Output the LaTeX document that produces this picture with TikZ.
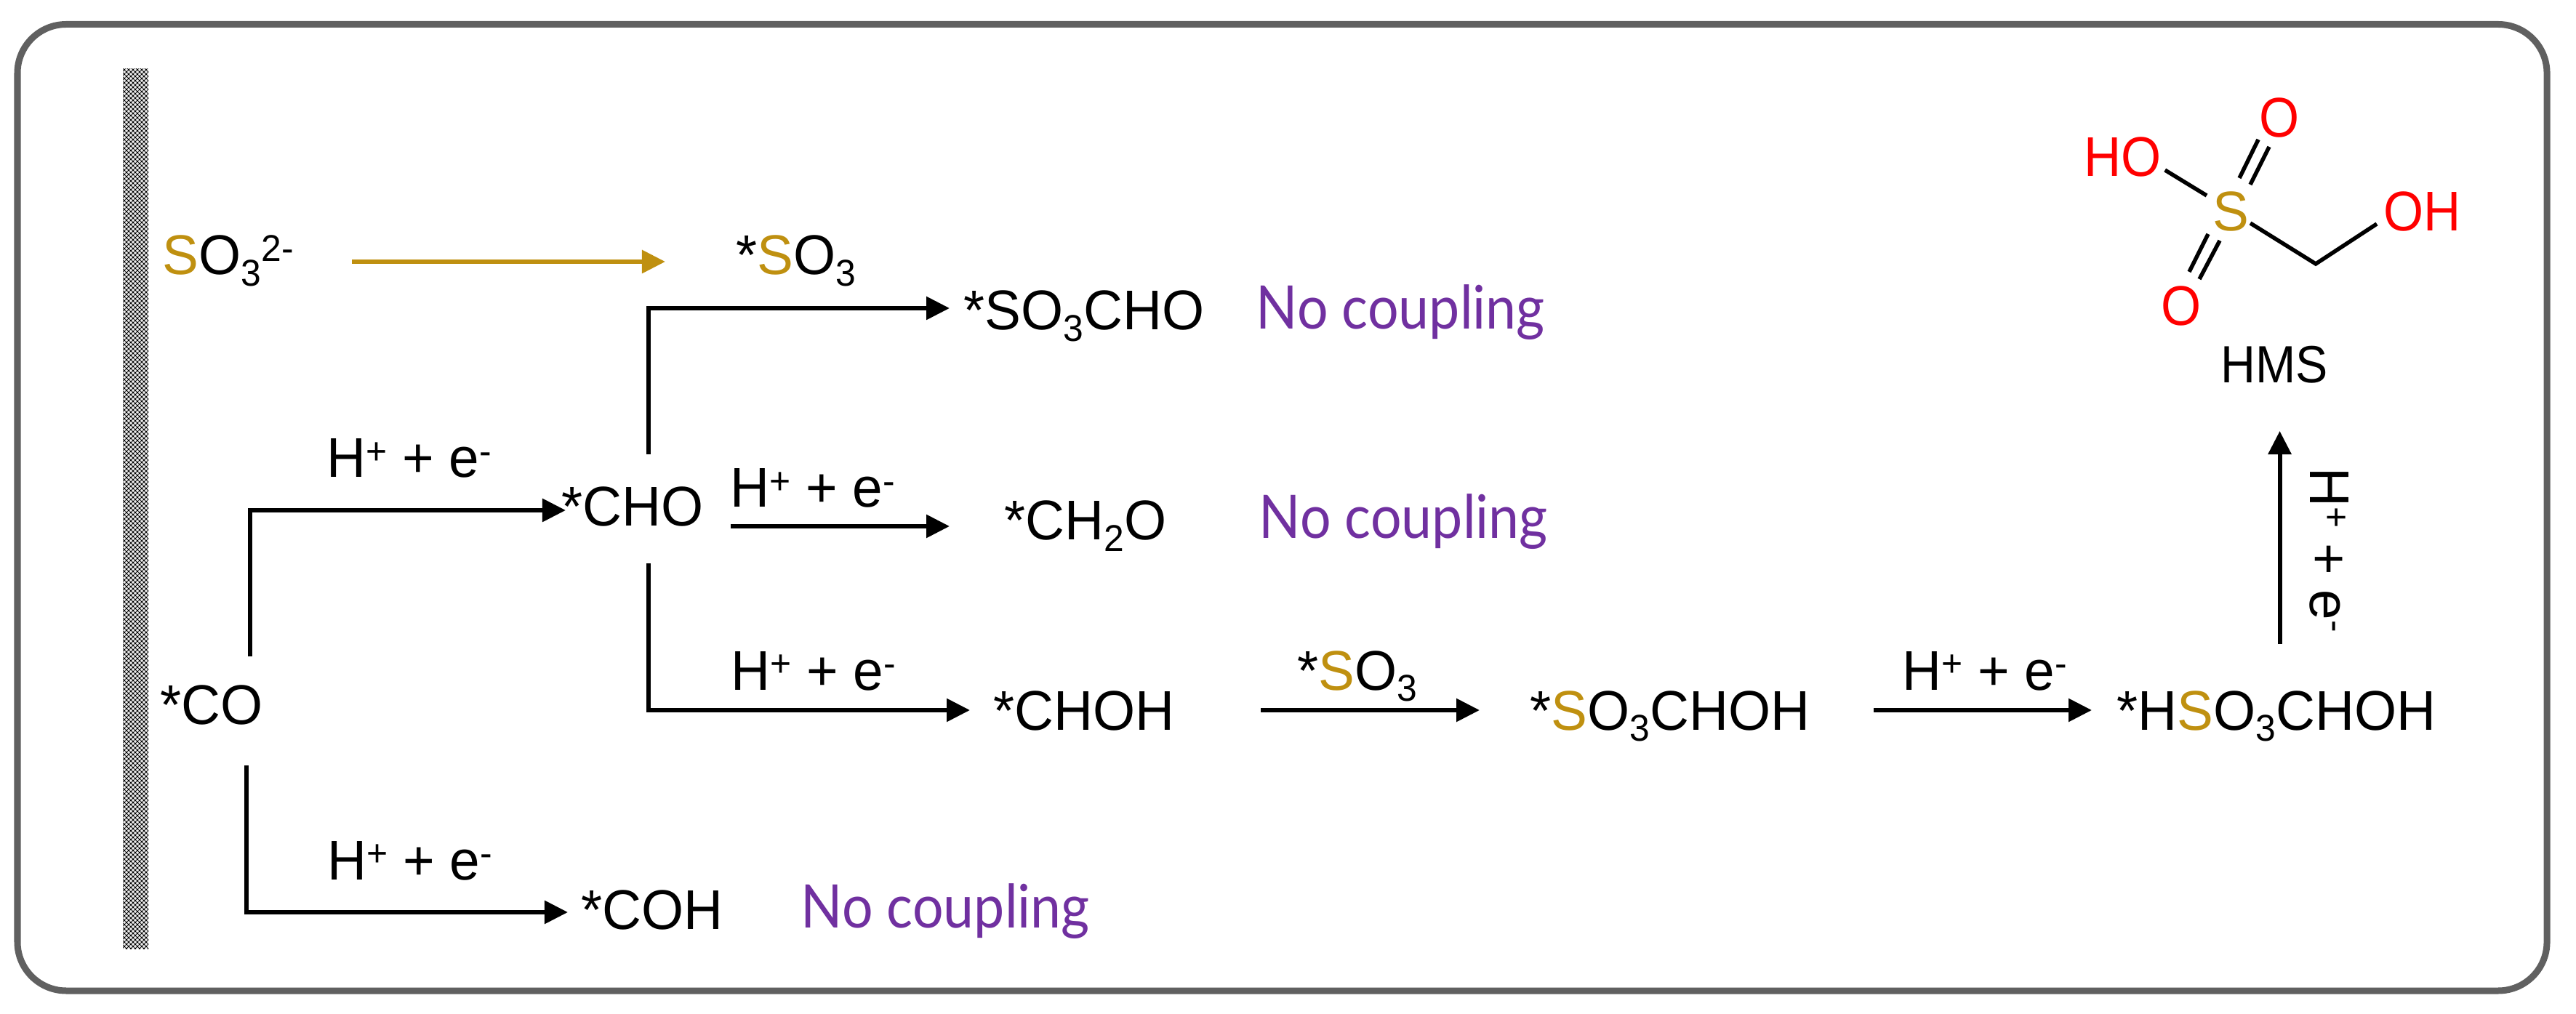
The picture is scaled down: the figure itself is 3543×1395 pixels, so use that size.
\documentclass[tikz,border=0pt]{standalone}
\usepackage{fontspec}
\setmainfont[FakeStretch=0.97]{Liberation Sans}
\newfontfamily\atomfont[FakeStretch=0.92]{Liberation Sans}
\newfontfamily\handfont[FakeStretch=0.91]{Lato}
\usepackage{xcolor}
\usepackage{tikz}
\usetikzlibrary{arrows.meta, patterns.meta}
\definecolor{sulfurgold}{RGB}{191, 144, 16}
\definecolor{nocoupleviolet}{RGB}{112, 48, 160}
\definecolor{framegray}{RGB}{96, 96, 96}
\newcommand{\hiscr}[1]{\raisebox{5.4pt}{\fontsize{14.6}{16}\selectfont #1}}
\newcommand{\loscr}[1]{\raisebox{-4.3pt}{\fontsize{14.6}{16}\selectfont #1}}
\newcommand{\gS}{\textcolor{sulfurgold}{S}}
\newcommand{\hpe}{H\hiscr{+} + e\hiscr{-}}

\begin{document}
\begin{tikzpicture}[
    x=0.01cm, y=-0.01cm,
    chem/.style={anchor=base west, inner sep=0pt, font=\fontsize{21.9}{26}\selectfont},
    nocouple/.style={anchor=base west, inner sep=0pt, text=nocoupleviolet,
                     font=\fontsize{23.5}{28}\selectfont\handfont},
    atom/.style={chem, text=red, font=\fontsize{21.9}{26}\selectfont\atomfont},
    arrow/.style={-{Triangle[length=0.32cm, width=0.31cm]}, line width=0.06cm},
    bond/.style={line width=0.055cm},
  ]
    \useasboundingbox (0,0) rectangle (3543,1395);

    % Outer frame
    \draw[framegray, line width=0.09cm, rounded corners=0.67cm] (24,33.5) rectangle (3503,1363);

    % Surface
    \fill[gray!15] (169,95) rectangle (204,1305);
    \path[pattern={Lines[angle=45, distance=0.0424cm, line width=0.009cm]}] (169,95) rectangle (204,1305);
    \path[pattern={Lines[angle=-45, distance=0.0424cm, line width=0.009cm]}] (169,95) rectangle (204,1305);

    % Species
    \node[chem] (sulfite) at (223,378) {\gS O\loscr{3}\hiscr{2-}};
    \node[chem] (so3) at (1012,378) {*\gS O\loscr{3}};
    \node[chem] (so3cho) at (1325,454) {*SO\loscr{3}CHO};
    \node[chem] (cho) at (772,724) {*CHO};
    \node[chem] (ch2o) at (1381,743) {*CH\loscr{2}O};
    \node[chem] (co) at (220,996) {*CO};
    \node[chem] (choh) at (1366,1004) {*CHOH};
    \node[chem] (so3choh) at (2104,1004) {*\gS O\loscr{3}CHOH};
    \node[chem] (hso3choh) at (2911,1004) {*H\gS O\loscr{3}CHOH};
    \node[chem] (coh) at (799,1278) {*COH};

    % No coupling notes
    \node[nocouple] (nc1) at (1727,453) {No coupling};
    \node[nocouple] (nc2) at (1731,741) {No coupling};
    \node[nocouple] (nc3) at (1101,1276) {No coupling};

    % Electron transfer labels
    \node[chem] (he1) at (449,657) {\hpe};
    \node[chem] (he2) at (1004,698) {\hpe};
    \node[chem] (he3) at (1005,949) {\hpe};
    \node[chem] (he4) at (450,1210) {\hpe};
    \node[chem] (he5) at (2616,949) {\hpe};
    \node[chem, rotate=-90] (he6) at (3177,643) {\hpe};
    \node[chem] (so3lbl) at (1784,949) {*\gS O\loscr{3}};

    % HMS molecule
    \node[chem, anchor=base, text=sulfurgold] (s) at (3068,318) {S};
    \node[atom, anchor=base] (otop) at (3135.5,189) {O};
    \node[atom, anchor=base] (obot) at (3000,448) {O};
    \node[atom] (ho) at (2866,243) {HO};
    \node[atom] (oh) at (3278,318) {OH};
    \node[chem, font=\fontsize{20.5}{24}\selectfont\atomfont] (hms) at (3054,527) {HMS};
    \coordinate (ch2) at (3185,363);
    \draw[bond] ([shift={(4,-9)}]ho.base east) -- ([shift={(-33,-49)}]s.base);
    \draw[bond] ([shift={(-29.5,3)}]otop.base) -- ([shift={(12,-73)}]s.base);
    \draw[bond] ([shift={(-14.5,13)}]otop.base) -- ([shift={(27,-64)}]s.base);
    \draw[bond] ([shift={(-31,4)}]s.base) -- ([shift={(11,-74)}]obot.base);
    \draw[bond] ([shift={(-15,13)}]s.base) -- ([shift={(25,-64)}]obot.base);
    \draw[bond, line join=miter] ([shift={(27,-11)}]s.base) -- (ch2) -- ([shift={(-9,-10)}]oh.base west);

    % Arrows
    \draw[arrow, sulfurgold] ([shift={(261,-18)}]sulfite.base west) -- ([shift={(-97,-18)}]so3.base west);
    \draw[arrow] ([shift={(124,-93)}]co.base west) |- ([shift={(6,-22)}]cho.base west);
    \draw[arrow] ([shift={(119,57)}]co.base west) |- ([shift={(-18,-23)}]coh.base west);
    \draw[arrow] ([shift={(120,-99)}]cho.base west) |- ([shift={(-19,-30)}]so3cho.base west);
    \draw[arrow] ([shift={(233,0)}]cho.base west) -- ([shift={(-75,-19)}]ch2o.base west);
    \draw[arrow] ([shift={(120,51)}]cho.base west) |- ([shift={(-32,-27)}]choh.base west);
    \draw[arrow] ([shift={(368,-27)}]choh.base west) -- ([shift={(-69,-27)}]so3choh.base west);
    \draw[arrow] ([shift={(473,-27)}]so3choh.base west) -- ([shift={(-34,-27)}]hso3choh.base west);
    \draw[arrow] ([shift={(224.5,-118)}]hso3choh.base west) -- ([shift={(81.5,66)}]hms.base west);
\end{tikzpicture}
\end{document}
